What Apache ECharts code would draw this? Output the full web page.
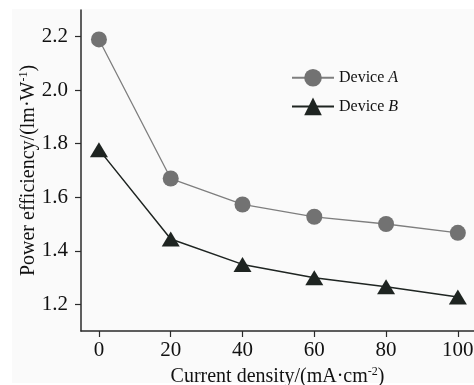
<!DOCTYPE html>
<html>
<head>
<meta charset="utf-8">
<script src="https://cdn.jsdelivr.net/npm/echarts@6/dist/echarts.min.js"></script>
<style>
  html, body { margin: 0; padding: 0; background: #fff; }
  #chart { width: 474px; height: 385px; }
</style>
</head>
<body>
<div id="chart"></div>
<script>
// current density, mA/cm2
var currentDensity = [0, 20, 40, 60, 80, 100];
var deviceA = [2.19, 1.67, 1.573, 1.527, 1.50, 1.467];
var deviceB = [1.778, 1.444, 1.349, 1.299, 1.265, 1.227];
var xTicks = [0, 20, 40, 60, 80, 100];
var yTicks = [1.2, 1.4, 1.6, 1.8, 2.0, 2.2];

var fontName = '"Liberation Serif", "DejaVu Serif", serif';
var axisColor = '#2a2a2a';

function pairs(xs, ys) {
  var out = [];
  for (var i = 0; i < xs.length; i++) {
    out.push([xs[i], ys[i]]);
  }
  return out;
}

var myChart = echarts.init(document.getElementById('chart'));
var option = {
  backgroundColor: '#fff',
  animation: false,
  graphic: [{
    type: 'rect', silent: true, z: -100,
    shape: { x: 12, y: 9, width: 462, height: 374 },
    style: { fill: '#fafafa' }
  }],
  grid: { left: 81, right: 0, top: 10, bottom: 54, containLabel: false, outerBoundsMode: 'none' },
  legend: {
    left: 286, top: 64, orient: 'vertical',
    itemWidth: 42, itemHeight: 22, itemGap: 11,
    textStyle: {
      fontFamily: fontName, fontSize: 16, color: '#111',
      rich: {
        n: { fontFamily: fontName, fontSize: 16, color: '#111' },
        i: { fontFamily: fontName, fontSize: 16, color: '#111', fontStyle: 'italic' }
      }
    },
    formatter: function (name) {
      var parts = name.split(' ');
      return '{n|' + parts[0] + ' }{i|' + parts[1] + '}';
    },
    data: ['Device A', 'Device B']
  },
  xAxis: {
    type: 'value', min: -5, max: 104.5,
    name: 'Current density/(mA·cm{sup|-2})',
    nameLocation: 'middle', nameGap: 35,
    nameTextStyle: {
      fontFamily: fontName, fontSize: 20, color: '#111',
      rich: { sup: { fontFamily: fontName, fontSize: 12, color: '#111', padding: [0, 0, 10, 0] } }
    },
    axisLine: { onZero: false, lineStyle: { color: axisColor, width: 1.5 } },
    axisTick: { length: 6, lineStyle: { color: axisColor, width: 1.2 }, customValues: xTicks },
    axisLabel: { fontFamily: fontName, fontSize: 21, color: '#111', margin: 9, customValues: xTicks },
    splitLine: { show: false }
  },
  yAxis: {
    type: 'value', min: 1.1, max: 2.3,
    name: 'Power efficiency/(lm·W{sup|-1})',
    nameLocation: 'middle', nameGap: 41, nameRotate: 90,
    nameMoveOverlap: false,
    nameTextStyle: {
      fontFamily: fontName, fontSize: 20, color: '#111',
      rich: { sup: { fontFamily: fontName, fontSize: 12, color: '#111', padding: [0, 0, 10, 0] } }
    },
    axisLine: { show: true, onZero: false, lineStyle: { color: axisColor, width: 1.5 } },
    axisTick: { show: true, length: 6, lineStyle: { color: axisColor, width: 1.2 }, customValues: yTicks },
    axisLabel: {
      fontFamily: fontName, fontSize: 21, color: '#111', margin: 13,
      customValues: yTicks,
      formatter: function (v) { return v.toFixed(1); }
    },
    splitLine: { show: false }
  },
  series: [
    {
      name: 'Device A', type: 'line',
      data: pairs(currentDensity, deviceA),
      symbol: 'circle', symbolSize: 16,
      lineStyle: { color: '#7e7e7e', width: 1.3 },
      itemStyle: { color: '#727272' }
    },
    {
      name: 'Device B', type: 'line',
      data: pairs(currentDensity, deviceB),
      symbol: 'triangle', symbolSize: [18, 15],
      lineStyle: { color: '#1e2421', width: 1.5 },
      itemStyle: { color: '#1e2421' }
    }
  ]
};
myChart.setOption(option);
</script>
</body>
</html>
